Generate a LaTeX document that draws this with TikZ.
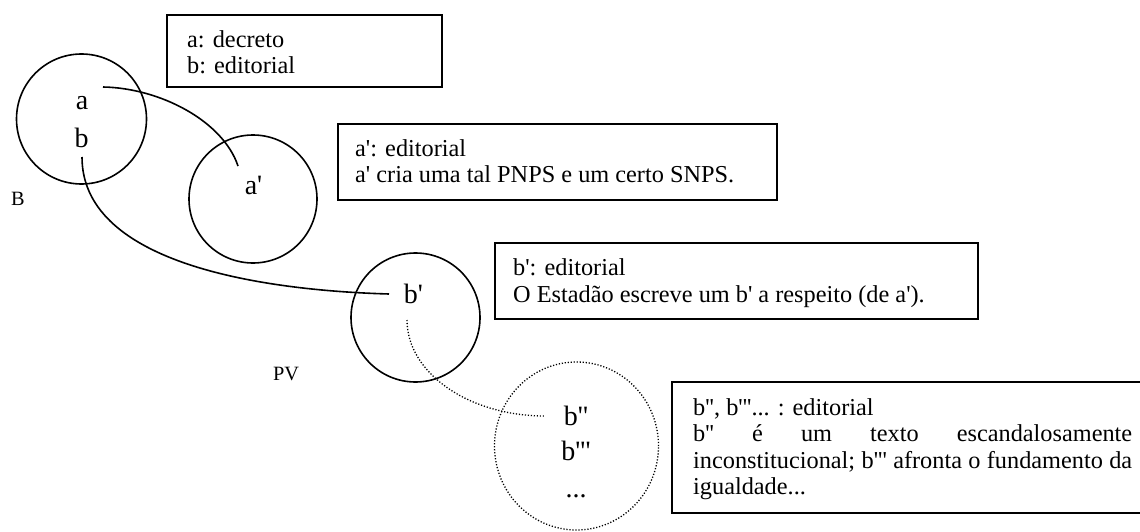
\documentclass[tikz,border=0pt]{standalone}
\usepackage{fontspec}
\setmainfont{Liberation Serif}[Ligatures=TeXOff]
\usetikzlibrary{shapes.geometric}

\tikzset{
  ring/.style={circle, draw, line width=1.6pt, minimum size=#1, inner sep=0pt, outer sep=0pt},
  dotring/.style={ellipse, draw, line width=1.3pt, dash pattern=on 1.2pt off 1.8pt,
                  inner sep=0pt, outer sep=0pt},
  notebox/.style={draw, line width=1.8pt, anchor=north west, inner sep=0pt, outer sep=0pt},
  notetext/.style={anchor=base west, inner sep=0pt, font=\fontsize{24.3}{26.5}\selectfont},
  setlabel/.style={anchor=base, inner sep=0pt, font=\fontsize{28}{32}\selectfont},
  sidelabel/.style={anchor=base, inner sep=0pt, font=\fontsize{20.3}{23}\selectfont},
  link/.style={line width=1.6pt},
  dotlink/.style={line width=1.3pt, dash pattern=on 1.2pt off 1.8pt},
}

\begin{document}
\begin{tikzpicture}[x=1pt, y=-1pt]
\useasboundingbox (0,0) rectangle (1140,532);
\clip (0,0) rectangle (1140,532);

% sets
\node[ring=130pt] (setB)  at (81.5,119)   {};
\node[ring=128pt] (setA1) at (253,199)    {};
\node[ring=129pt] (setB1) at (415.5,317.5) {};
\node[dotring, minimum width=164pt, minimum height=168pt] (setB2) at (576.5,446) {};

% elements
\node[setlabel] (la)  at (82,110)   {a};
\node[setlabel] (lb)  at (81.5,147) {b};
\node[setlabel] (la1) at (253.5,194) {a'};
\node[setlabel] (lb1) at (413.5,303) {b'};
\node[setlabel] (lb2) at (576,425)  {b''};
\node[setlabel] (lb3) at (576,460)  {b'''};
\node[setlabel] (lbd) at (576,497)  {...};

% side labels
\node[sidelabel] (nameB)  at (18,205)  {B};
\node[sidelabel] (namePV) at (286,380) {PV};

% note boxes
\node[notebox, minimum width=275pt, minimum height=72pt] (boxA)  at (167,15)  {};
\node[notebox, minimum width=439pt, minimum height=76pt] (boxA1) at (338,124) {};
\node[notebox, minimum width=483pt, minimum height=76pt] (boxB1) at (495,243) {};
\node[notebox, minimum width=480pt, minimum height=131pt] (boxB2) at (672,382) {};

\node[notetext] (tA) at (187,47.5)
  {\begin{tabular}[t]{@{}l@{}}a: decreto\\ b: editorial\end{tabular}};
\node[notetext] (tA1) at (355,156.5)
  {\begin{tabular}[t]{@{}l@{}}a': editorial\\ a' cria uma tal PNPS e um certo SNPS.\end{tabular}};
\node[notetext] (tB1) at (513,275.5)
  {\begin{tabular}[t]{@{}l@{}}b': editorial\\ O Estadão escreve um b' a respeito (de a').\end{tabular}};
\node[notetext] (tB2) at (693,415)
  {\begin{tabular}[t]{@{}l@{}}b'', b'''... : editorial\\
   \makebox[439pt][s]{b'' é um texto escandalosamente}\\
   \makebox[439pt][s]{inconstitucional; b''' afronta o fundamento da}\\
   igualdade...\end{tabular}};

% connector ends
\coordinate (aOut)  at (103,87);
\coordinate (a1In)  at (238,166);
\coordinate (bOut)  at (82,157);
\coordinate (b1In)  at (389,294);
\coordinate (b1Out) at (407,320);
\coordinate (b2In)  at (545,416);

\draw[link]    (aOut)  .. controls (160,88)  and (223,121) .. (a1In);
\draw[link]    (bOut)  .. controls (82,260)  and (250,290) .. (b1In);
\draw[dotlink] (b1Out) .. controls (407,373) and (469,416) .. (b2In);
\end{tikzpicture}
\end{document}
